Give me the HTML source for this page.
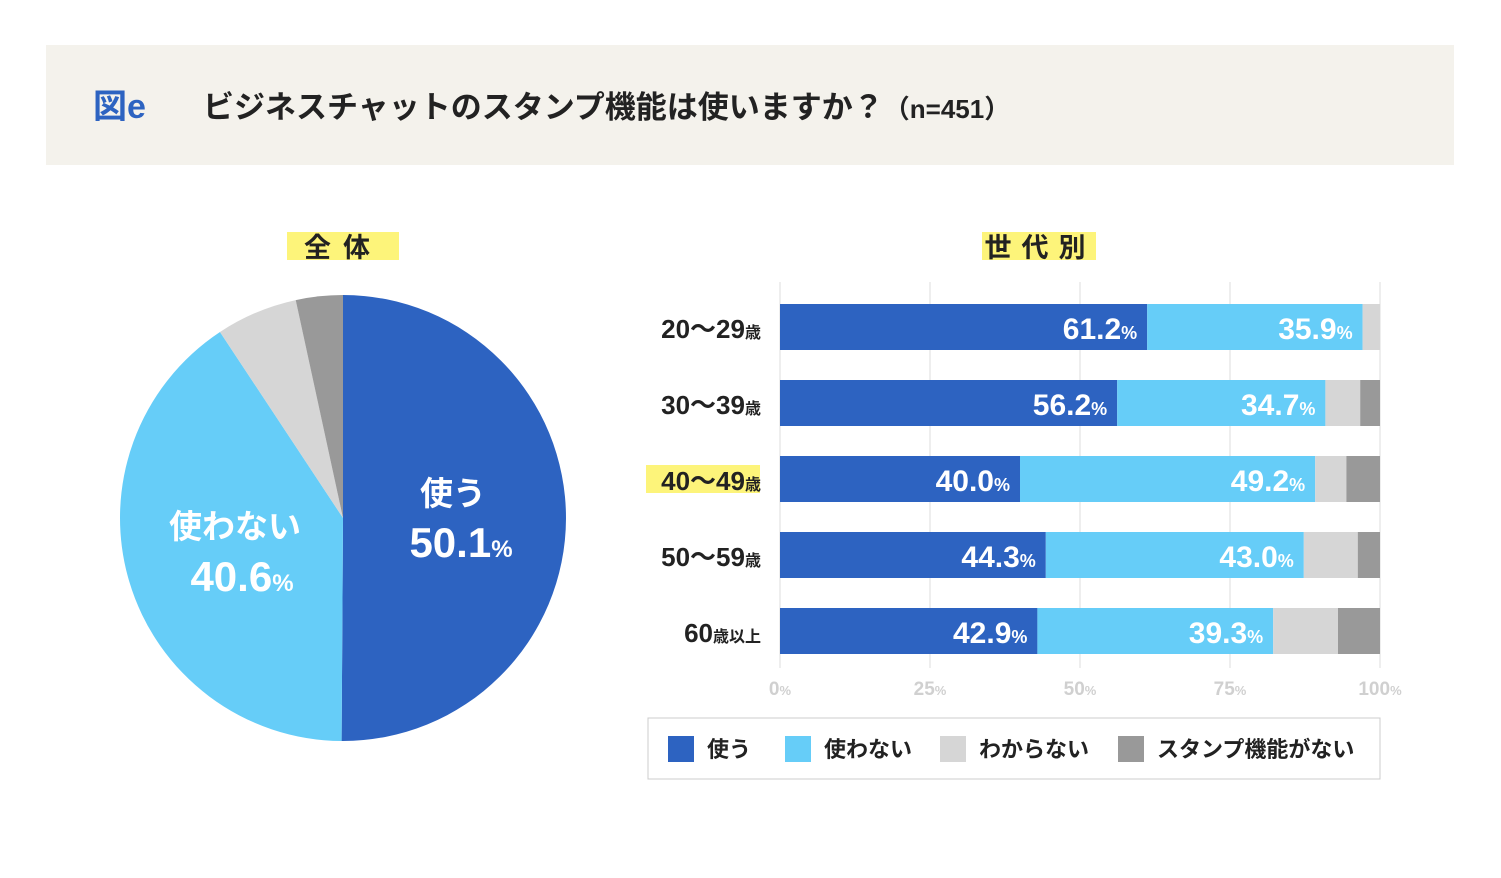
<!DOCTYPE html>
<html><head><meta charset="utf-8">
<style>
body{margin:0;width:1501px;height:878px;background:#fff;font-family:"Liberation Sans","Noto Sans CJK JP",sans-serif;overflow:hidden;position:relative}
</style></head><body>
<div style="position:absolute;left:46px;top:45px;width:1408px;height:120px;background:#f4f2ec"></div>
<svg id="c" width="1501" height="878" style="position:absolute;left:0;top:0"
 font-family="Liberation Sans, Noto Sans CJK JP, sans-serif"></svg>
<script>
const pieLabels=["使う","使わない","わからない","スタンプ機能がない"];
const pieValues=[50.1,40.6,5.9,3.4];
const colors=["#2d63c1","#66cdf8","#d6d6d6","#999999"];
const groups=["20〜29","30〜39","40〜49","50〜59","60"];
const s1=[61.2,56.2,40.0,44.3,42.9];
const s2=[35.9,34.7,49.2,43.0,39.3];
const s3=[2.9,5.8,5.2,9.0,10.8];
const s4=[0,3.3,5.6,3.7,7.0];
const ticks=[0,25,50,75,100];
const svg=document.getElementById('c');
const NS="http://www.w3.org/2000/svg";
function mk(t,a,txt){const e=document.createElementNS(NS,t);for(const k in a)e.setAttribute(k,a[k]);if(txt!==undefined)e.innerHTML=txt;svg.appendChild(e);return e;}
let e;
e=mk('text',{x:93,y:118,'font-size':34,'font-weight':'bold',fill:'#2d63c1'},'図e');

e=mk('text',{x:203,y:118,'font-size':31,'font-weight':'bold',fill:'#222'},'ビジネスチャットのスタンプ機能は使いますか？<tspan font-size="26">（n=451）</tspan>');

// subtitles
e=mk('rect',{x:287,y:232,width:112,height:28,fill:'#fdf47a'});

e=mk('text',{x:343,y:257,'font-size':27,'font-weight':'bold','text-anchor':'middle',fill:'#222','letter-spacing':'12'},'全体');

e=mk('rect',{x:982,y:232,width:114,height:28,fill:'#fdf47a'});

e=mk('text',{x:1040,y:257,'font-size':27,'font-weight':'bold','text-anchor':'middle',fill:'#222','letter-spacing':'10'},'世代別');

// pie
const cx=343,cy=518,r=223;
let a0=0;const tot=pieValues.reduce((a,b)=>a+b,0);
pieValues.forEach((v,i)=>{const a1=a0+v/tot*Math.PI*2;
 const p=(a)=>[cx+r*Math.sin(a),cy-r*Math.cos(a)];
 const [x0,y0]=p(a0),[x1,y1]=p(a1);
 e=mk('path',{d:`M${cx},${cy}L${x0},${y0}A${r},${r} 0 ${a1-a0>Math.PI?1:0} 1 ${x1},${y1}Z`,fill:colors[i]});
 
 a0=a1;});
e=mk('text',{x:453,y:505,'font-size':33,'font-weight':'bold','text-anchor':'middle',fill:'#fff'},pieLabels[0]);

e=mk('text',{x:461,y:557,'font-size':42,'font-weight':'bold','text-anchor':'middle',fill:'#fff'},pieValues[0].toFixed(1)+'<tspan font-size="24">%</tspan>');

e=mk('text',{x:235,y:538,'font-size':33,'font-weight':'bold','text-anchor':'middle',fill:'#fff'},pieLabels[1]);

e=mk('text',{x:242,y:591,'font-size':42,'font-weight':'bold','text-anchor':'middle',fill:'#fff'},pieValues[1].toFixed(1)+'<tspan font-size="24">%</tspan>');

// bars
const X0=780,W=600;const xs=v=>X0+v/100*W;
ticks.forEach(t=>{
 e=mk('line',{x1:xs(t),x2:xs(t),y1:282,y2:668,stroke:'#ddd','stroke-width':1});
 
 e=mk('text',{x:xs(t),y:695,'font-size':19,'font-weight':'bold','text-anchor':'middle',fill:'#d0d0d0'},t+'<tspan font-size="13">%</tspan>');
 
});
const series=[s1,s2,s3,s4];
groups.forEach((g,i)=>{
 const yc=327+i*76,h=46;let acc=0;
 series.forEach((s,k)=>{const v=s[i];
  e=mk('rect',{x:xs(acc),y:yc-h/2,width:v/100*W,height:h,fill:colors[k]});
  
  if(k<2){e=mk('text',{x:xs(acc+v)-10,y:yc+12,'font-size':30,'font-weight':'bold','text-anchor':'end',fill:'#fff'},v.toFixed(1)+'<tspan font-size="18">%</tspan>');
   }
  acc+=v;});
 if(i==2){e=mk('rect',{x:646,y:yc-14,width:114,height:28,fill:'#fdf47a'});
  }
 e=mk('text',{x:761,y:yc+11,'font-size':26,'font-weight':'bold','text-anchor':'end',fill:'#222'},g+'<tspan font-size="16">'+(i==4?'歳以上':'歳')+'</tspan>');
 
});
// legend
e=mk('rect',{x:648,y:718,width:732,height:61,fill:'#fff',stroke:'#ccc'});

const lx=[668,785,940,1118];
pieLabels.forEach((l,i)=>{
 e=mk('rect',{x:lx[i],y:736,width:26,height:26,fill:colors[i]});
 
 e=mk('text',{x:lx[i]+39,y:757,'font-size':22,'font-weight':'bold',fill:'#222'},l);
 
});
</script>
</body></html>
